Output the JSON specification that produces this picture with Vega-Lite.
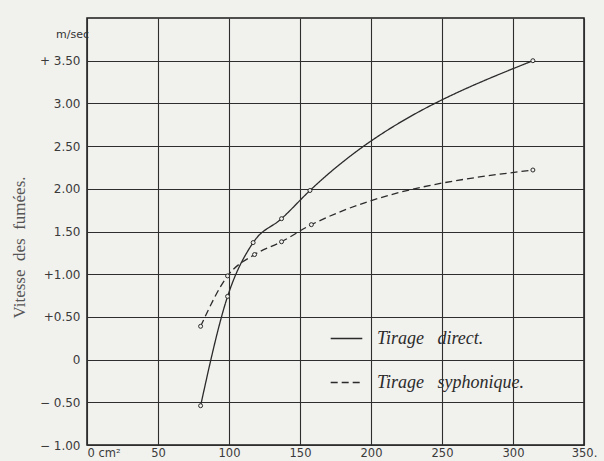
{
  "$schema": "https://vega.github.io/schema/vega-lite/v6.json",
  "width": 497,
  "height": 427,
  "autosize": {"type": "none"},
  "padding": {"left": 87, "top": 18, "right": 20, "bottom": 16},
  "background": "#f1f1ee",
  "title": {
    "text": "m/sec",
    "anchor": "start",
    "frame": "group",
    "orient": "top",
    "offset": 0,
    "dx": -31,
    "dy": 31,
    "baseline": "alphabetic",
    "font": "DejaVu Sans",
    "fontSize": 11,
    "fontWeight": "normal",
    "color": "#333333"
  },
  "data": {
    "values": [
      {"section": 80, "vitesse": -0.54, "tirage": "Tirage direct."},
      {"section": 99, "vitesse": 0.74, "tirage": "Tirage direct."},
      {"section": 117, "vitesse": 1.37, "tirage": "Tirage direct."},
      {"section": 137, "vitesse": 1.65, "tirage": "Tirage direct."},
      {"section": 157, "vitesse": 1.98, "tirage": "Tirage direct."},
      {"section": 314, "vitesse": 3.5, "tirage": "Tirage direct."},
      {"section": 80, "vitesse": 0.39, "tirage": "Tirage syphonique."},
      {"section": 99, "vitesse": 0.98, "tirage": "Tirage syphonique."},
      {"section": 118, "vitesse": 1.23, "tirage": "Tirage syphonique."},
      {"section": 137, "vitesse": 1.38, "tirage": "Tirage syphonique."},
      {"section": 158, "vitesse": 1.58, "tirage": "Tirage syphonique."},
      {"section": 314, "vitesse": 2.22, "tirage": "Tirage syphonique."}
    ]
  },
  "encoding": {
    "x": {
      "field": "section",
      "type": "quantitative",
      "scale": {"domain": [0, 350], "nice": false, "zero": false},
      "axis": {
        "values": [0, 50, 100, 150, 200, 250, 300, 350],
        "title": null,
        "grid": true,
        "gridColor": "#2e2e2e",
        "gridOpacity": 1,
        "gridWidth": 1.1,
        "ticks": false,
        "domain": false,
        "labelPadding": 2,
        "labelDx": 4,
        "labelFont": "DejaVu Sans",
        "labelFontSize": 11.5,
        "labelColor": "#3a3a3a",
        "labelAlign": {"condition": {"test": "datum.value == 0", "value": "left"}, "value": "center"},
        "labelExpr": "datum.value == 0 ? '0 cm²' : datum.value == 350 ? '350.' : datum.label"
      }
    },
    "y": {
      "field": "vitesse",
      "type": "quantitative",
      "scale": {"domain": [-1, 4], "nice": false, "zero": false},
      "axis": {
        "values": [-1, -0.5, 0, 0.5, 1, 1.5, 2, 2.5, 3, 3.5],
        "title": "Vitesse\u00a0\u00a0des\u00a0\u00a0fumées.",
        "titleFont": "Liberation Serif",
        "titleFontSize": 17,
        "titleFontWeight": "normal",
        "titleColor": "#555555",
        "titleX": -68,
        "titleY": 229,
        "titleAngle": 270,
        "titleAlign": "center",
        "titleBaseline": "middle",
        "grid": true,
        "gridColor": "#2e2e2e",
        "gridOpacity": 1,
        "gridWidth": 1.1,
        "ticks": false,
        "domain": false,
        "labelPadding": 7,
        "labelFont": "DejaVu Sans",
        "labelFontSize": 12,
        "labelColor": "#3a3a3a",
        "labelExpr": "datum.value == 3.5 ? '+ 3.50' : datum.value == 1 ? '+1.00' : datum.value == 0.5 ? '+0.50' : datum.value == 0 ? '0' : datum.value == -0.5 ? '− 0.50' : datum.value == -1 ? '− 1.00' : format(datum.value, '.2f')"
      }
    }
  },
  "layer": [
    {
      "mark": {"type": "line", "interpolate": "monotone", "color": "#2b2b2b", "strokeWidth": 1.3},
      "encoding": {
        "strokeDash": {
          "field": "tirage",
          "type": "nominal",
          "scale": {"domain": ["Tirage direct.", "Tirage syphonique."], "range": [[1, 0], [7, 4]]},
          "legend": {
            "orient": "none",
            "legendX": 243,
            "legendY": 304,
            "title": null,
            "symbolType": "stroke",
            "symbolSize": 1000,
            "symbolStrokeWidth": 1.3,
            "symbolStrokeColor": "#2b2b2b",
            "labelFont": "Liberation Serif",
            "labelFontStyle": "italic",
            "labelFontSize": 18,
            "labelColor": "#2b2b2b",
            "labelOffset": 14,
            "labelLimit": 400,
            "rowPadding": 18,
            "labelExpr": "replace(datum.label, ' ', '\u00a0\u00a0\u00a0')"
          }
        }
      }
    },
    {
      "mark": {"type": "point", "shape": "circle", "size": 16, "filled": true, "fill": "#f1f1ee", "stroke": "#2b2b2b", "strokeWidth": 1, "opacity": 1},
      "encoding": {"detail": {"field": "tirage", "type": "nominal"}}
    }
  ],
  "config": {"view": {"stroke": "#1a1a1a", "strokeWidth": 1.5}}
}
